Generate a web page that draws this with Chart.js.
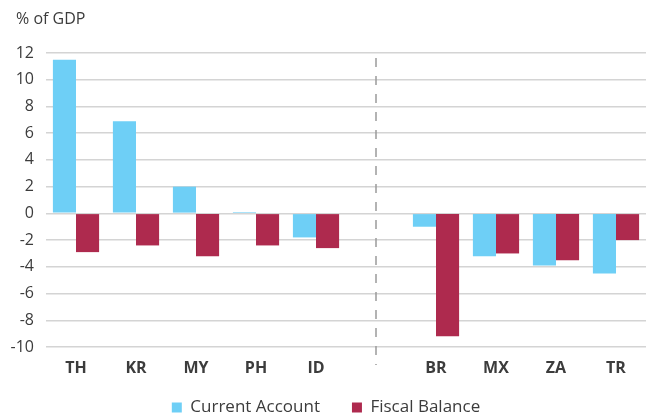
<!DOCTYPE html>
<html>
<head>
<meta charset="utf-8">
<script src="https://cdn.jsdelivr.net/npm/chart.js@4/dist/chart.umd.min.js"></script>
<style>
  html, body { margin: 0; padding: 0; background: #fff; }
  #wrap { width: 646px; height: 419px; }
</style>
</head>
<body>
<div id="wrap"><canvas id="graphic"></canvas></div>
<script>
const labels = ['TH', 'KR', 'MY', 'PH', 'ID', '', 'BR', 'MX', 'ZA', 'TR'];
const currentAccount = [11.5, 6.9, 2.0, 0.1, -1.8, null, -1.0, -3.2, -3.9, -4.5];
const fiscalBalance = [-2.9, -2.4, -3.2, -2.4, -2.6, null, -9.2, -3.0, -3.5, -2.0];
const yTicks = [12, 10, 8, 6, 4, 2, 0, -2, -4, -6, -8, -10];
const colors = ['#6ECFF6', '#AE2A4E'];
const textColor = '#3c3c3c';
const unitLabel = '% of GDP';

// dashed divider drawn at the empty category, plus the unit label top-left
const divider = {
    id: 'divider',
    afterLayout(chart) {
        // pull the legend up a bit so it sits closer to the axis labels
        chart.legend.top -= 12;
        chart.legend.bottom -= 12;
    },
    beforeDatasetsDraw(chart) {
        const x = chart.scales.x.getPixelForValue(labels.indexOf(''));
        const ctx = chart.ctx;
        ctx.save();
        ctx.strokeStyle = '#9a9a9a';
        ctx.lineWidth = 1.5;
        ctx.setLineDash([9, 9]);
        ctx.beginPath();
        ctx.moveTo(x, chart.chartArea.top + 5);
        ctx.lineTo(x, chart.chartArea.bottom + 18);
        ctx.stroke();
        ctx.restore();
    },
    afterDraw(chart) {
        const ctx = chart.ctx;
        ctx.save();
        ctx.fillStyle = textColor;
        ctx.font = '16px "Open Sans"';
        ctx.textBaseline = 'middle';
        ctx.fillText(unitLabel, 16, 19);
        ctx.restore();
    }
};

new Chart(document.getElementById('graphic'), {
    type: 'bar',
    data: {
        labels: labels,
        datasets: [
            { label: 'Current Account', data: currentAccount, backgroundColor: colors[0] },
            { label: 'Fiscal Balance', data: fiscalBalance, backgroundColor: colors[1] }
        ]
    },
    options: {
        responsive: true,
        maintainAspectRatio: false,
        animation: false,
        layout: { padding: { left: 6, right: 0, top: 53, bottom: -19 } },
        datasets: {
            bar: { categoryPercentage: 0.77, barPercentage: 1.0 }
        },
        scales: {
            x: {
                afterFit(scale) { scale.height = 32; },
                grid: { display: false },
                border: { display: false },
                ticks: {
                    color: textColor,
                    padding: 4,
                    font: { family: 'Open Sans', size: 16, weight: 'bold' }
                }
            },
            y: {
                min: -10,
                max: 12,
                afterFit(scale) { scale.width = 40; },
                afterBuildTicks(axis) { axis.ticks = yTicks.map(v => ({ value: v })); },
                grid: { color: '#d4d4d4', lineWidth: 1.5, drawTicks: false },
                border: { display: false },
                ticks: {
                    color: textColor,
                    padding: 12,
                    font: { family: 'Open Sans', size: 16 }
                }
            }
        },
        plugins: {
            legend: {
                position: 'bottom',
                labels: {
                    color: textColor,
                    boxWidth: 10,
                    boxHeight: 10,
                    padding: 32,
                    font: { family: 'Open Sans', size: 17 }
                }
            },
            tooltip: { enabled: false }
        }
    },
    plugins: [divider]
});
</script>
</body>
</html>
